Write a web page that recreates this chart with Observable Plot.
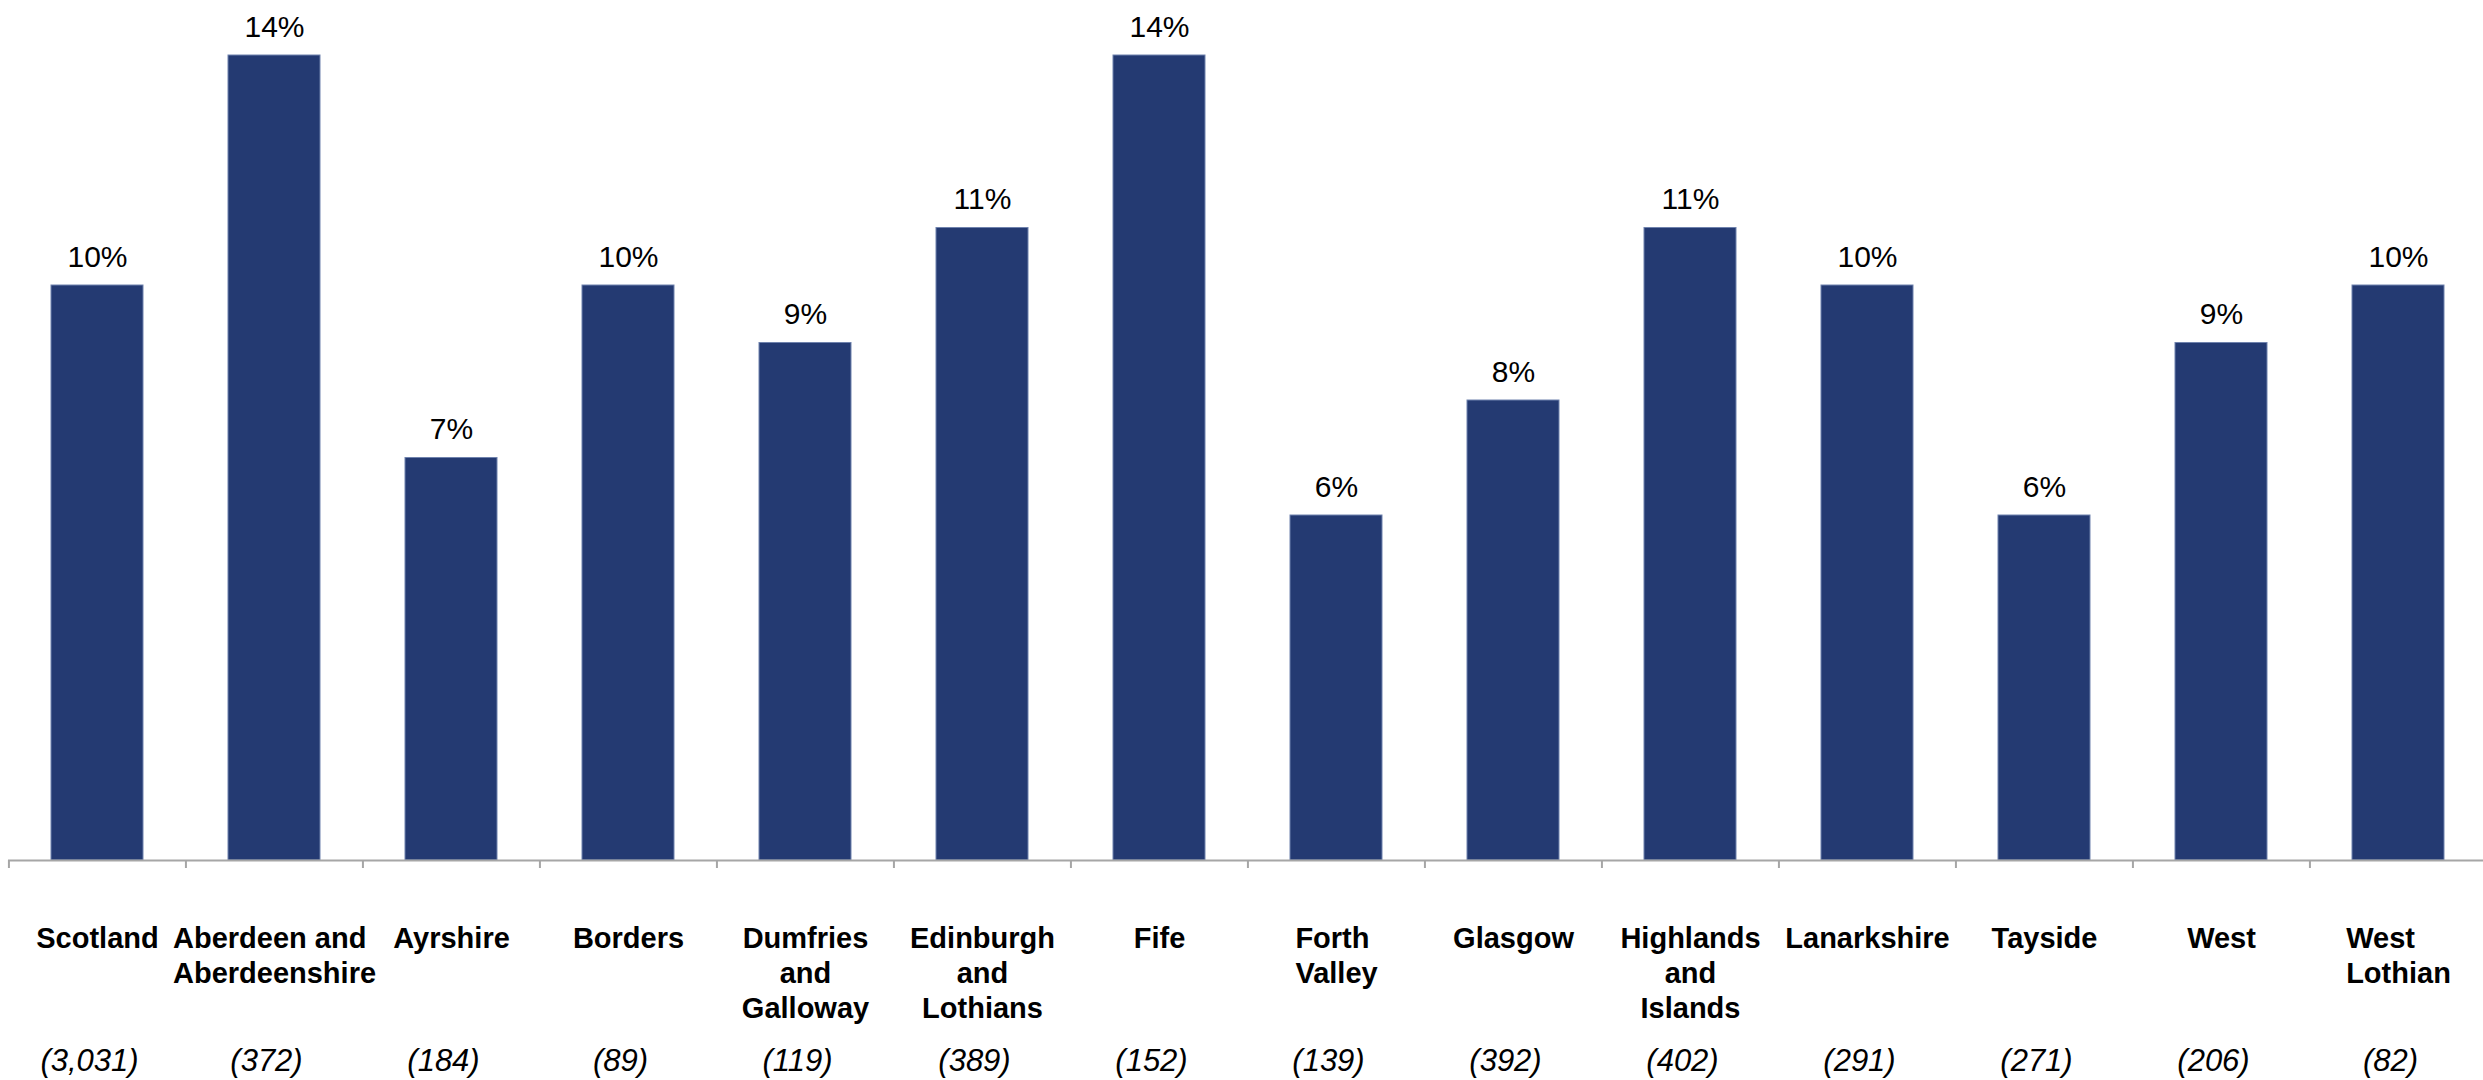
<!DOCTYPE html>
<html><head><meta charset="utf-8">
<script src="https://cdn.jsdelivr.net/npm/d3@7"></script>
<script src="https://cdn.jsdelivr.net/npm/@observablehq/plot@0.6"></script>
<style>html,body{margin:0;background:#fff} svg{display:block}</style>
</head><body><div id="chart"></div><div id="dbg" style="position:absolute;right:2px;bottom:2px;font:10px sans-serif;color:#c00"></div>
<script>
// ---- data ----
const regions = ["Scotland","Aberdeen and\nAberdeenshire","Ayrshire","Borders","Dumfries\nand\nGalloway","Edinburgh\nand\nLothians","Fife","Forth\nValley","Glasgow","Highlands\nand\nIslands","Lanarkshire","Tayside","West","West\nLothian"];
const percents = [10,14,7,10,9,11,14,6,8,11,10,6,9,10];
const bases = ["(3,031)","(372)","(184)","(89)","(119)","(389)","(152)","(139)","(392)","(402)","(291)","(271)","(206)","(82)"];
const leftAligned = ["Aberdeen and\nAberdeenshire","Forth\nValley","West\nLothian"];

// ---- layout ----
const W = 2483, H = 1080, MT = 55, MB = 220, X0 = 8, X1 = 2488;
const YMAX = 14;
const step = (X1 - X0) / regions.length;
const pxPerUnit = (H - MB - MT) / YMAX;
const FONT = "Arial, 'Liberation Sans', sans-serif";

const data = regions.map((r, i) => ({region: r, pct: percents[i], n: bases[i]}));

const chart = Plot.plot({
  width: W, height: H,
  marginTop: MT, marginBottom: MB, marginLeft: X0, marginRight: 0,
  style: {fontFamily: FONT, background: "#fff", overflow: "visible", color: "#000"},
  x: {domain: regions, range: [X0, X1], paddingInner: 0.48, paddingOuter: 0.24, axis: null},
  y: {domain: [0, YMAX], axis: null},
  marks: [
    Plot.barY(data, {x: "region", y: "pct", fill: "#243a72", stroke: "#6f82ad", strokeWidth: 1}),
    Plot.ruleY([0], {stroke: "#a6a6a6", strokeWidth: 2}),
    Plot.ruleX(regions, {x: d => d, y1: 0, y2: -8 / pxPerUnit, dx: -step / 2, stroke: "#a6a6a6", strokeWidth: 2}),
    Plot.text(data, {x: "region", y: "pct", text: d => d.pct + "%", dy: -19, lineAnchor: "bottom", fontSize: 30, fill: "#000"}),
    Plot.text(data, {x: "region", text: "region", frameAnchor: "bottom", lineAnchor: "top", dy: 62, fontSize: 29, fontWeight: "bold", lineHeight: 1.22, fill: "#000"}),
    Plot.text(data, {x: "region", text: "n", frameAnchor: "bottom", lineAnchor: "top", dy: 188, dx: -8, fontSize: 31, fontStyle: "italic", fill: "#000"})
  ]
});
document.getElementById("chart").appendChild(chart);

// left-align the lines of some two-line labels inside a centred block
let matched = 0;
const ctx = document.createElement("canvas").getContext("2d");
ctx.font = "bold 29px Arial, 'Liberation Sans', sans-serif";
const texts = Array.from(chart.querySelectorAll("text"));
texts.forEach(t => {
  const spans = Array.from(t.querySelectorAll("tspan"));
  if (spans.length < 2) return;
  const txt = spans.map(s => s.textContent).join("\n");
  if (!leftAligned.includes(txt)) return;
  matched++;
  const w = Math.max(...spans.map(s => ctx.measureText(s.textContent).width));
  t.setAttribute("text-anchor", "start");
  t.style.textAnchor = "start";
  spans.forEach(s => s.setAttribute("x", String(-w / 2)));
});
if (matched < 3) {
  document.getElementById("dbg").textContent = "texts:" + texts.length + " matched:" + matched + " sample:" + (texts[20] ? texts[20].outerHTML.slice(0, 200) : "");
}
</script>
</body></html>
